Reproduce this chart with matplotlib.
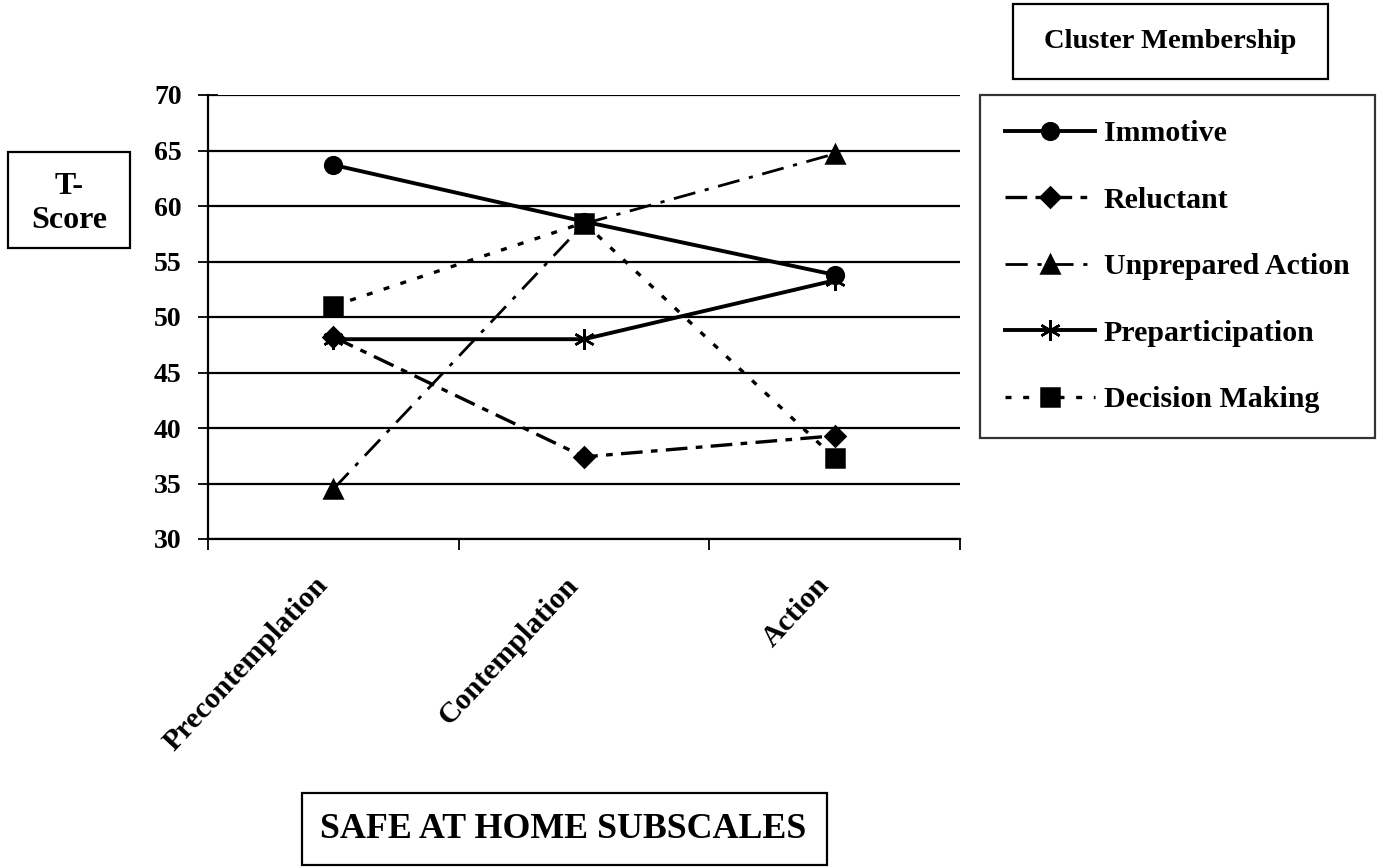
import matplotlib
matplotlib.use("Agg")
import matplotlib.pyplot as plt
from matplotlib.patches import Rectangle

plt.rcParams['font.family'] = ['Liberation Serif', 'DejaVu Serif']
plt.rcParams['font.weight'] = 'bold'

categories = ["Precontemplation", "Contemplation", "Action"]
series_names = ["Immotive", "Reluctant", "Unprepared Action", "Preparticipation", "Decision Making"]
immotive = [63.7, 58.6, 53.8]
reluctant = [48.2, 37.4, 39.3]
unprepared = [34.5, 58.4, 64.7]
preparticipation = [48.0, 48.0, 53.3]
decision_making = [51.0, 58.5, 37.3]
y_ticks = [30, 35, 40, 45, 50, 55, 60, 65, 70]

W, H = 1379, 867
fig = plt.figure(figsize=(W / 100, H / 100), dpi=100)


def fx(px):
    return px / W


def fy(py):
    return 1 - py / H


ax = fig.add_axes([fx(208), fy(539), fx(960) - fx(208), fy(95) - fy(539)])

x = list(range(len(categories)))
styles = [
    dict(ls='-', lw=2.8, marker='o', ms=12),
    dict(ls=(0, (6.5, 2.5, 2, 2.5)), lw=2.4, marker='D', ms=10),
    dict(ls=(0, (8, 3.5, 1.5, 3.5)), lw=2.0, marker='^', ms=13),
    dict(ls='-', lw=2.8, marker=(6, 2, 0), ms=15),
    dict(ls=(0, (1.8, 3.5)), lw=2.4, marker='s', ms=13),
]
data = [immotive, reluctant, unprepared, preparticipation, decision_making]
handles = []
for name, vals, st in zip(series_names, data, styles):
    ln, = ax.plot(x, vals, color='black', linestyle=st['ls'], lw=st['lw'],
                  marker=st['marker'], markersize=st['ms'], mec='black', mfc='black',
                  mew=1.8, label=name)
    handles.append(ln)

ax.set_xlim(-0.5, 2.5)
ax.set_ylim(30, 70)
ax.set_yticks(y_ticks)
ax.set_yticklabels([str(t) for t in y_ticks], fontsize=20, fontweight='bold')
for t in y_ticks:
    ax.axhline(t, color='black', lw=1.6, zorder=0)
ax.set_xticks([-0.5, 0.5, 1.5, 2.5])
ax.set_xticklabels([])
ax.tick_params(axis='x', direction='out', length=8, width=1.3)
ax.tick_params(axis='y', direction='inout', length=14, width=1.3, pad=12)
for i, c in enumerate(categories):
    ax.text(i - 0.04, -0.095, c, transform=ax.get_xaxis_transform(), rotation=47,
            ha='right', va='center', rotation_mode='anchor', fontsize=21.5, fontweight='bold')
for s in ax.spines.values():
    s.set_linewidth(1.6)
ax.spines['top'].set_visible(False)
ax.spines['right'].set_visible(False)

leg = fig.legend(handles=handles, loc='upper left', bbox_to_anchor=(fx(980), fy(95)),
                 borderaxespad=0, frameon=True, fancybox=False, edgecolor='black',
                 labelspacing=1.32, handlelength=3.0, handletextpad=0.3, borderpad=0.85,
                 prop={'family': 'Liberation Serif', 'weight': 'bold', 'size': 21.5})
leg.get_frame().set_linewidth(1.6)


def box(x0, y0, x1, y1):
    fig.patches.append(Rectangle((fx(x0), fy(y1)), fx(x1) - fx(x0), fy(y0) - fy(y1),
                                 transform=fig.transFigure, fill=False, ec='black', lw=1.6))


box(1013, 4, 1328, 79)
fig.text(fx(1170), fy(41), "Cluster Membership", ha='center', va='center', fontsize=20.5,
         fontweight='bold')
box(8, 152, 130, 248)
fig.text(fx(69), fy(187), "T-", ha='center', va='center', fontsize=23, fontweight='bold')
fig.text(fx(69), fy(221), "Score", ha='center', va='center', fontsize=23, fontweight='bold')
box(302, 793, 827, 865)
fig.text(fx(563), fy(830), "SAFE AT HOME SUBSCALES", ha='center', va='center', fontsize=25.8,
         fontweight='bold')

fig.savefig("out.png", dpi=100, facecolor='white')
